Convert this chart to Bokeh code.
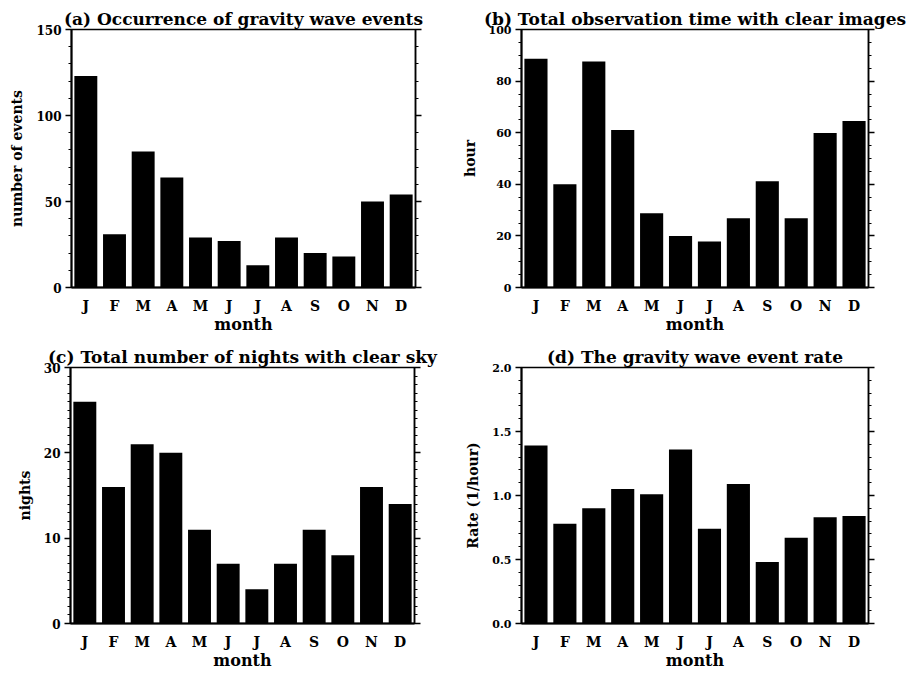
from bokeh.plotting import figure
from bokeh.layouts import column, row
from bokeh.models import (Range1d, FixedTicker, LinearAxis, PrintfTickFormatter,
                          CustomJSTickFormatter)
from bokeh.embed import file_html
from bokeh.resources import INLINE
import numpy as np

# ---------------- data ----------------
months = ["J", "F", "M", "A", "M", "J", "J", "A", "S", "O", "N", "D"]
month_pos = list(range(1, 13))

events = [123, 31, 79, 64, 29, 27, 13, 29, 20, 18, 50, 54]
hours = [88.7, 40.0, 87.6, 61.0, 28.8, 20.0, 17.8, 26.8, 41.2, 26.8, 59.9, 64.5]
nights = [26, 16, 21, 20, 11, 7, 4, 7, 11, 8, 16, 14]
rate = [1.39, 0.78, 0.90, 1.05, 1.01, 1.36, 0.74, 1.09, 0.48, 0.67, 0.83, 0.84]

titles = ["(a) Occurrence of gravity wave events",
          "(b) Total observation time with clear images",
          "(c) Total number of nights with clear sky",
          "(d) The gravity wave event rate"]
ylabels = ["number of events", "hour", "nights", "Rate (1/hour)"]
xlabel = "month"
ymaxes = [150, 100, 30, 2.0]
major_steps = [50, 20, 10, 0.5]
minor_steps = [10, 5, 1, 0.1]

FONT = "DejaVu Serif"


def style_axis(ax, ticker, fmt=None, tick_size="12px"):
    ax.ticker = ticker
    if fmt is not None:
        ax.formatter = fmt
    ax.axis_line_color = "black"
    ax.axis_line_width = 2
    ax.major_tick_line_color = "black"
    ax.major_tick_line_width = 1.5
    ax.minor_tick_line_color = "black"
    ax.minor_tick_line_width = 1.2
    ax.major_tick_in = 0
    ax.minor_tick_in = 0
    ax.major_tick_out = 6
    ax.minor_tick_out = 3
    ax.major_label_text_font = FONT
    ax.major_label_text_font_style = "bold"
    ax.major_label_text_font_size = tick_size
    ax.major_label_text_color = "black"
    ax.major_label_standoff = 4


def panel(title, values, ylabel, ymax, major, minor, width, height,
          bl, br, bt, bb, tick_size, fmt=None):
    p = figure(width=width, height=height, output_backend="svg",
               toolbar_location=None, tools="",
               x_range=Range1d(0.5, 12.5), y_range=Range1d(0, ymax),
               min_border_left=bl, min_border_right=br,
               min_border_top=bt, min_border_bottom=bb)
    p.vbar(x=month_pos, top=values, bottom=0, width=0.8,
           fill_color="black", line_color=None)
    p.grid.visible = False
    p.background_fill_color = "white"
    p.border_fill_color = "white"
    p.outline_line_color = "black"
    p.outline_line_width = 1.5

    p.title.text = title
    p.title.align = "center"
    p.title.text_font = FONT
    p.title.text_font_style = "bold"
    p.title.text_font_size = "17px"
    p.title.text_color = "black"
    p.title.standoff = 2

    yt = FixedTicker(ticks=list(np.round(np.arange(0, ymax + major / 2, major), 6)),
                     minor_ticks=list(np.round(np.arange(0, ymax + minor / 2, minor), 6)))
    ya = p.yaxis[0]
    style_axis(ya, yt, fmt, tick_size)
    ya.axis_label = ylabel
    ya.axis_label_text_font = FONT
    ya.axis_label_text_font_style = "bold"
    ya.axis_label_text_font_size = "14px"
    ya.axis_label_text_color = "black"
    ya.axis_label_standoff = 8

    ra = LinearAxis()
    style_axis(ra, FixedTicker(ticks=yt.ticks, minor_ticks=yt.minor_ticks),
               CustomJSTickFormatter(code="return ''"), tick_size)
    ra.axis_line_width = 1.5
    p.add_layout(ra, "right")

    xa = p.xaxis[0]
    xa.ticker = FixedTicker(ticks=month_pos)
    xa.major_label_overrides = {pos: m for pos, m in zip(month_pos, months)}
    xa.axis_line_color = "black"
    xa.axis_line_width = 2
    xa.major_tick_line_color = None
    xa.minor_tick_line_color = None
    xa.major_tick_out = 0
    xa.major_tick_in = 0
    xa.major_label_text_font = FONT
    xa.major_label_text_font_style = "bold"
    xa.major_label_text_font_size = "14px"
    xa.major_label_text_color = "black"
    xa.major_label_standoff = 10
    xa.axis_label = xlabel
    xa.axis_label_text_font = FONT
    xa.axis_label_text_font_style = "bold"
    xa.axis_label_text_font_size = "16px"
    xa.axis_label_text_color = "black"
    xa.axis_label_standoff = -2
    return p


pa = panel(titles[0], events, ylabels[0], ymaxes[0], major_steps[0], minor_steps[0],
           457, 336, 71, 42, 29, 49, "12px")
pb = panel(titles[1], hours, ylabels[1], ymaxes[1], major_steps[1], minor_steps[1],
           456, 336, 64, 45, 29, 49, "11px")
pc = panel(titles[2], nights, ylabels[2], ymaxes[2], major_steps[2], minor_steps[2],
           457, 336, 70, 43, 31, 49, "12px")
pd_ = panel(titles[3], rate, ylabels[3], ymaxes[3], major_steps[3], minor_steps[3],
            456, 336, 64, 45, 31, 49, "11px", fmt=PrintfTickFormatter(format="%.1f"))

layout = column(row(pa, pb), row(pc, pd_))
open("out.html", "w").write(file_html(layout, INLINE))
